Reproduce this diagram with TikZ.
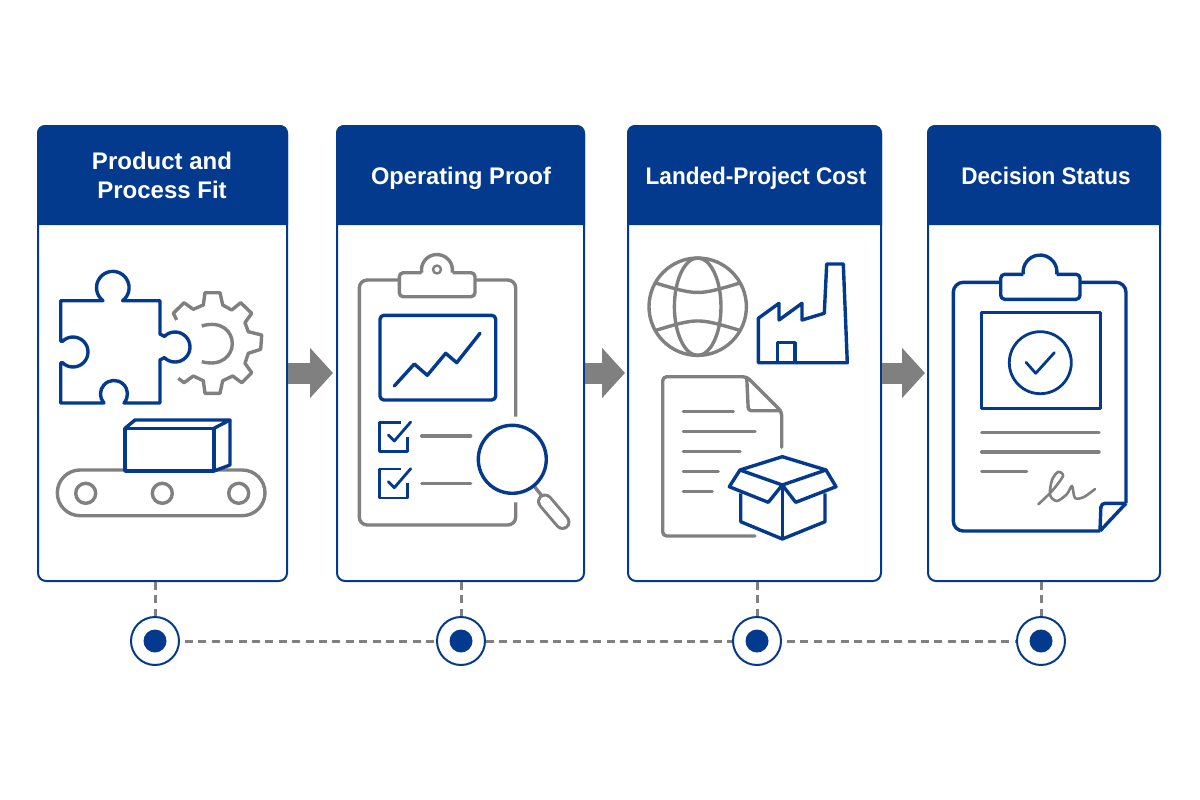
\documentclass[tikz,border=0pt]{standalone}
\usepackage{fontspec}
\setmainfont{Liberation Sans}
\newfontfamily\headnarrow{Liberation Sans}[FakeStretch=0.94]
\newfontfamily\headslight{Liberation Sans}[FakeStretch=0.985]
\definecolor{flownavy}{RGB}{3,58,142}
\definecolor{flowgray}{RGB}{128,128,128}
\usetikzlibrary{arrows.meta,positioning,calc}

\begin{document}
\begin{tikzpicture}[
  x=1pt,y=-1pt,
  line join=round,
  panelbox/.style={draw=flownavy,line width=2pt,fill=white,rounded corners=8pt,inner sep=0pt,minimum height=455pt},
  headbar/.style={fill=flownavy},
  headtext/.style={text=white,align=center,inner sep=0pt,font=\fontsize{24}{29}\selectfont\bfseries},
  oneline/.style={headtext,anchor=base},
  blueline/.style={draw=flownavy,line width=3.4pt},
  grayline/.style={draw=flowgray,line width=3.4pt},
  thinblue/.style={draw=flownavy,line width=2.8pt},
  blockarrow/.style={draw=flowgray,line width=21pt,-{Triangle[length=23pt,width=49pt]},shorten >=3pt},
  linkdash/.style={draw=flowgray,line width=3pt,dash pattern=on 8pt off 5.4pt},
  dotring/.style={draw=flownavy,line width=2pt,fill=white,circle,minimum size=48pt,inner sep=0pt},
  dotcore/.style={fill=flownavy,circle,minimum size=23pt,inner sep=0pt},
]
  \useasboundingbox (0,0) rectangle (1200,800);
  % Panels
  \node[panelbox,minimum width=249pt] (panelA) at (162.5,353.5) {};
  \node[panelbox,minimum width=247pt] (panelB) at (460.5,353.5) {};
  \node[panelbox,minimum width=253pt] (panelC) at (754.5,353.5) {};
  \node[panelbox,minimum width=232pt] (panelD) at (1044,353.5) {};
  % Header bars
  \fill[headbar] (37,225) [rounded corners=8pt] -- (37,125) -- (288,125) [sharp corners] -- (288,225) -- cycle;
  \fill[headbar] (336,225) [rounded corners=8pt] -- (336,125) -- (585,125) [sharp corners] -- (585,225) -- cycle;
  \fill[headbar] (627,225) [rounded corners=8pt] -- (627,125) -- (882,125) [sharp corners] -- (882,225) -- cycle;
  \fill[headbar] (927,225) [rounded corners=8pt] -- (927,125) -- (1161,125) [sharp corners] -- (1161,225) -- cycle;
  \node[headtext] (headA) at (162,175.5) {Product and\\Process Fit};
  \node[oneline,font=\fontsize{24}{29}\headslight\bfseries] (headB) at (461,184) {Operating Proof};
  \node[oneline,font=\fontsize{24}{29}\headnarrow\bfseries] (headC) at (756,184) {Landed-Project Cost};
  \node[oneline,font=\fontsize{24}{29}\headnarrow\bfseries] (headD) at (1046,184) {Decision Status};
  % Arrows between panels
  \draw[blockarrow] ([yshift=-19.5pt]panelA.east) -- ([yshift=-19.5pt]panelB.west);
  \draw[blockarrow,shorten >=2pt] ([yshift=-19.5pt]panelB.east) -- ([yshift=-19.5pt]panelC.west);
  \draw[blockarrow,shorten >=2pt] ([yshift=-19.5pt]panelC.east) -- ([yshift=-19.5pt]panelD.west);
  % Timeline
  \node[dotring] (dotA) at (155,641) {};
  \node[dotring] (dotB) at (461,641) {};
  \node[dotring] (dotC) at (757,641) {};
  \node[dotring] (dotD) at (1041,641) {};
  \node[dotcore] (coreA) at (dotA) {};
  \node[dotcore] (coreB) at (dotB) {};
  \node[dotcore] (coreC) at (dotC) {};
  \node[dotcore] (coreD) at (dotD) {};
  \draw[linkdash] (dotA.north |- panelA.south) -- (dotA.north);
  \draw[linkdash] (dotB.north |- panelB.south) -- (dotB.north);
  \draw[linkdash] (dotC.north |- panelC.south) -- (dotC.north);
  \draw[linkdash] (dotD.north |- panelD.south) -- (dotD.north);
  \draw[linkdash,shorten <=5pt] (dotA.east) -- (dotB.west);
  \draw[linkdash] (dotB.east) -- (dotC.west);
  \draw[linkdash,shorten <=5pt] (dotC.east) -- (dotD.west);
  % Puzzle piece
  \draw[blueline] (60.7,300.7) -- (103,300.7) arc[start angle=127,end angle=413,radius=16.3]
    -- (160,300.7) -- (160,334) -- (164.4,336.4) arc[start angle=225,end angle=495,radius=15]
    -- (160,360) -- (160,403) -- (124,403) arc[start angle=42,end angle=-222,radius=13.5]
    -- (60.7,403) -- (60.7,363) -- (62.4,362.6) arc[start angle=135,end angle=-135,radius=15]
    -- (60.7,341) -- cycle;
  % Gear
  \draw[grayline] (176.7,320) -- (173.3,313.3) -- (184,302.7) -- (193.3,309.3) -- (203.3,305)
    -- (205,292.7) -- (220,292.7) -- (222.7,305) -- (231.7,310) -- (240.7,302.7) -- (251.7,313.3)
    -- (245,322.7) -- (248.3,331.7) -- (261.7,335) -- (260.7,349.3) -- (248.3,353.3) -- (245,363.3)
    -- (251.7,372.7) -- (241.7,382.7) -- (232.7,376) -- (222.7,380.7) -- (220,393.3) -- (205,393.3)
    -- (203.3,380.7) -- (193.3,376) -- (184,382.7) -- (178.3,378.3);
  \draw[grayline] (201.7,326) .. controls (222,320) and (232.3,332) .. (232.3,343.5)
    .. controls (232.3,355) and (222,367) .. (201.7,361.7);
  % Conveyor
  \draw[grayline,rounded corners=22.8pt] (57.3,470) rectangle (265,515.7);
  \draw[grayline] (85.7,493.3) circle[radius=10];
  \draw[grayline] (162.3,493.3) circle[radius=10];
  \draw[grayline] (238.7,493.3) circle[radius=10];
  \draw[blueline,fill=white] (125,428.3) rectangle (214,471);
  \draw[blueline] (125,428.3) -- (135,420) -- (230,420) -- (214,428.3);
  \draw[blueline] (230,420) -- (230,465) -- (214,471);
  % Clipboard with chart
  \draw[grayline,rounded corners=8pt] (515.7,416.7) -- (515.7,280) -- (475,280);
  \draw[grayline,rounded corners=8pt] (399.3,280) -- (359.3,280) -- (359.3,525) -- (515.7,525) -- (515.7,502.3);
  \draw[grayline,rounded corners=4pt] (421.7,272.7) -- (399.3,272.7) -- (399.3,296.7) -- (475,296.7) -- (475,272.7) -- (452.7,272.7);
  \draw[grayline] (421.7,272.7) arc[start angle=170,end angle=370,radius=15.5];
  \draw[grayline,line width=2.4pt] (437,269.5) circle[radius=4];
  \draw[blueline,rounded corners=4pt] (380,315.3) rectangle (495.7,400);
  \draw[blueline,line cap=round] (394.3,386) -- (414.3,364) -- (427.3,375.3) -- (445.7,353.3) -- (456.7,362.7) -- (480,333.3);
  % Check list
  \draw[thinblue] (401,422.3) -- (379.3,422.3) -- (379.3,451.3) -- (407.7,451.3) -- (407.7,436.7);
  \draw[thinblue,line cap=round] (388.3,435) -- (394.3,441) -- (410.7,422);
  \draw[thinblue] (401,469) -- (379.3,469) -- (379.3,498) -- (407.7,498) -- (407.7,483.4);
  \draw[thinblue,line cap=round] (388.3,481.7) -- (394.3,487.7) -- (410.7,468.7);
  \draw[grayline,line cap=round] (421.7,436) -- (470.7,436);
  \draw[grayline,line cap=round] (421.7,483.3) -- (470.7,483.3);
  % Magnifier
  \draw[grayline] (534,486) -- (542,496);
  \draw[flowgray,line width=16pt,line cap=round] (545,501.5) -- (562.5,522);
  \draw[white,line width=10pt,line cap=round] (545,501.5) -- (562.5,522);
  \draw[blueline] (512.3,459.3) circle[radius=34];
  % Globe
  \draw[grayline] (697.7,306.7) circle[radius=48.7];
  \draw[grayline] (697.7,306.7) ellipse[x radius=23.3,y radius=48.7];
  \draw[grayline] (655.5,283) .. controls (697.7,295.6) .. (740,283);
  \draw[grayline] (655.5,330.4) .. controls (697.7,317.8) .. (740,330.4);
  % Factory
  \draw[blueline] (758.3,362.7) -- (758.3,318.3) -- (779,303.3) -- (779,320) -- (802,303.3) -- (802,320)
    -- (824.3,313.3) -- (826.7,264) -- (843.3,264) -- (847.3,362.7) -- cycle;
  \draw[blueline] (777.7,362.7) -- (777.7,342.7) -- (795,342.7) -- (795,362.7);
  % Document
  \draw[grayline,rounded corners=4pt,line cap=round] (781.7,447.3) -- (781.7,411.7) -- (746.7,376.7) -- (662.7,376.7) -- (662.7,536) -- (755,536);
  \draw[grayline,rounded corners=3pt] (746.7,376.7) -- (748.3,410.7) -- (781.7,410.7);
  \draw[grayline,line cap=round] (683.3,411.3) -- (733.3,411.3);
  \draw[grayline,line cap=round] (683.3,431.3) -- (755,431.3);
  \draw[grayline,line cap=round] (683.3,451.3) -- (740,451.3);
  \draw[grayline,line cap=round] (683.3,471.3) -- (718.3,471.3);
  \draw[grayline,line cap=round] (683.3,491.3) -- (712.3,491.3);
  % Open box
  \draw[blueline] (740,470) -- (782.3,456.7) -- (826,470) -- (782.3,485) -- cycle;
  \draw[blueline] (740,470) -- (729.3,486.7) -- (768.3,502.3) -- (782.3,485);
  \draw[blueline] (826,470) -- (836,486.7) -- (795.7,502.3) -- (782.3,485);
  \draw[blueline] (740.7,493.3) -- (740.7,521.7) -- (782.3,539) -- (825,521.7) -- (825,493.3);
  \draw[blueline] (782.3,485) -- (782.3,539);
  % Signed clipboard
  \draw[blueline,rounded corners=10pt] (1000.7,282.3) -- (953.3,282.3) -- (953.3,531) -- (1100,531);
  \draw[blueline,rounded corners=10pt] (1080,282.3) -- (1126,282.3) -- (1126,503.3);
  \draw[blueline] (1126,503.3) -- (1100,531);
  \draw[blueline,rounded corners=4pt] (1126,503.3) -- (1101,503.3) -- (1100,531);
  \draw[blueline,rounded corners=4pt] (1023.3,274.3) -- (1000.7,274.3) -- (1000.7,299.3) -- (1080,299.3) -- (1080,274.3) -- (1056.7,274.3);
  \draw[blueline] (1023.3,274.3) arc[start angle=172,end angle=368,radius=16.9];
  \draw[thinblue] (981.7,312.7) rectangle (1100.7,408.3);
  \draw[thinblue] (1040.3,362.7) circle[radius=31];
  \draw[thinblue,line cap=round] (1026,362.3) -- (1035.7,373.3) -- (1054.3,352.7);
  \draw[grayline,line cap=round] (981.7,432.7) -- (1099,432.7);
  \draw[grayline,line cap=round] (981.7,452) -- (1099,452);
  \draw[grayline,line cap=round] (981.7,471.7) -- (1026.7,471.7);
  \draw[grayline,line width=2.6pt,line cap=round] plot[smooth] coordinates {(1038.3,504.3) (1052,491) (1063,476) (1058,472) (1052,480) (1050,495) (1057,501) (1067,494) (1072,486) (1075,498) (1084,497) (1095,489)};
\end{tikzpicture}
\end{document}
